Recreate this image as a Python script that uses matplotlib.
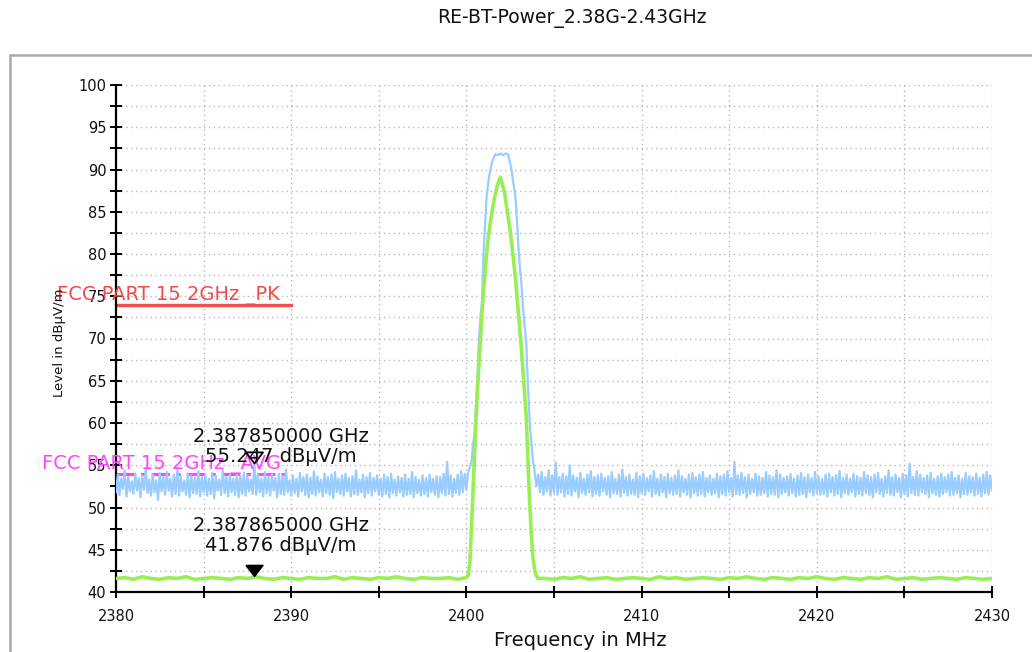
import numpy as np
import matplotlib
matplotlib.use("Agg")
import matplotlib.pyplot as plt
from matplotlib.patches import Rectangle
from matplotlib.ticker import MultipleLocator

plt.rcParams['font.family'] = ['DejaVu Sans']

TITLE = "RE-BT-Power_2.38G-2.43GHz"
XLABEL = "Frequency in MHz"
YLABEL = "Level in dBμV/m"

# ---- blue (peak detector) trace -------------------------------------------
blue_left_start, blue_step = 2380.0, 0.1
blue_left = [
    51.8, 53.9, 51.5, 53.4, 52.2, 54.4, 51.3, 53.6, 51.9, 53.1,
    51.6, 54.0, 52.0, 53.5, 51.2, 53.8, 52.1, 54.6, 51.7, 53.3,
    51.4, 53.9, 51.8, 53.2, 50.9, 54.1, 51.9, 53.6, 51.5, 54.2,
    52.0, 53.4, 51.3, 53.9, 51.6, 54.7, 51.4, 53.7, 51.9, 53.2,
    51.5, 54.0, 51.2, 53.8, 51.7, 53.5, 51.6, 54.3, 51.3, 53.6,
    51.8, 53.9, 51.4, 53.4, 51.6, 54.1, 51.1, 53.7, 52.0, 53.3,
    51.5, 54.4, 51.7, 53.6, 51.3, 53.9, 51.8, 53.4, 51.5, 54.0,
    51.2, 53.7, 51.6, 54.1, 51.4, 53.8, 51.9, 53.3, 51.6, 55.25,
    51.5, 53.9, 51.8, 53.4, 51.3, 54.2, 51.7, 53.6, 51.4, 53.9,
    52.0, 53.5, 51.2, 54.0, 51.6, 53.7, 51.5, 54.5, 51.8, 53.2,
    51.4, 53.8, 51.7, 53.4, 51.3, 54.1, 51.9, 53.6, 51.5, 53.9,
    51.2, 53.5, 51.6, 54.3, 51.4, 53.7, 51.8, 53.3, 51.3, 54.0,
    51.7, 53.6, 51.5, 53.9, 51.1, 54.2, 51.8, 53.4, 51.6, 53.8,
    51.4, 54.0, 51.9, 53.5, 51.3, 53.7, 51.6, 54.4, 51.5, 53.3,
    51.8, 53.9, 51.2, 53.6, 51.7, 54.1, 51.4, 53.5, 51.9, 53.8,
    51.5, 53.4, 51.3, 53.9, 51.6, 53.6, 51.2, 54.0, 51.7, 53.3,
    51.4, 53.7, 51.8, 53.5, 51.3, 53.9, 51.5, 53.4, 51.6, 54.2,
    51.2, 53.6, 51.7, 53.3, 51.4, 53.8, 51.6, 53.5, 51.3, 53.9,
    51.8, 53.4, 51.5, 53.7, 51.2, 53.6, 51.7, 54.0, 51.4, 55.4,
    51.6, 53.8, 51.3, 53.4, 51.7, 53.9, 51.5, 54.3, 51.8, 54.0,
    52.1, 54.2,
]
blue_peak_freq = [
    2400.20, 2400.30, 2400.38, 2400.45, 2400.57, 2400.65, 2400.72, 2400.80,
    2400.88, 2400.95, 2401.00, 2401.08, 2401.15, 2401.25, 2401.35, 2401.45,
    2401.55, 2401.65, 2401.80, 2401.95, 2402.10, 2402.25, 2402.37, 2402.47,
    2402.56, 2402.65, 2402.75, 2402.81, 2402.90, 2402.95, 2403.05, 2403.13,
    2403.22, 2403.30, 2403.42, 2403.50, 2403.57, 2403.65, 2403.72, 2403.80,
    2403.88,
]
blue_peak_level = [
    54.8, 55.5, 57.5, 58.5, 63.0, 66.5, 70.1, 72.5,
    74.0, 78.5, 81.0, 84.0, 86.7, 88.5, 89.8, 90.8,
    91.3, 91.8, 91.7, 91.9, 91.7, 91.9, 91.8, 91.0,
    90.2, 88.8, 87.5, 86.5, 83.5, 81.5, 78.5, 76.8,
    74.0, 72.0, 69.4, 65.0, 61.8, 59.0, 57.5, 55.5,
    54.5,
]
blue_right_start = 2404.0
blue_right = [
    52.5, 53.9, 51.8, 54.2, 51.5, 53.6, 51.9, 54.4, 51.4, 53.8,
    51.7, 55.3, 51.5, 53.6, 51.8, 54.0, 51.3, 53.7, 51.6, 55.0,
    51.4, 53.8, 51.9, 53.5, 51.2, 54.1, 51.7, 53.4, 51.5, 53.9,
    51.8, 54.3, 51.3, 53.6, 51.6, 53.8, 51.4, 54.0, 51.9, 53.5,
    51.5, 53.7, 51.2, 54.2, 51.7, 53.4, 51.6, 53.9, 51.3, 54.5,
    51.8, 53.6, 51.4, 53.9, 51.6, 53.3, 51.5, 54.1, 51.2, 53.7,
    51.7, 54.0, 51.5, 53.5, 51.9, 53.8, 51.3, 54.3, 51.6, 53.4,
    51.4, 53.9, 51.8, 53.6, 51.2, 54.0, 51.7, 53.5, 51.5, 53.8,
    51.6, 54.4, 51.3, 53.7, 51.8, 53.4, 51.5, 53.9, 51.2, 54.1,
    51.7, 53.6, 51.4, 53.9, 51.6, 54.2, 51.3, 53.5, 51.8, 53.8,
    51.5, 53.4, 51.7, 54.0, 51.2, 53.7, 51.6, 53.9, 51.4, 54.3,
    51.8, 53.5, 51.3, 55.4, 51.6, 53.8, 51.5, 54.1, 51.7, 53.6,
    51.2, 53.9, 51.6, 53.4, 51.8, 54.0, 51.4, 53.7, 51.5, 53.5,
    51.7, 54.2, 51.3, 53.8, 51.6, 53.6, 51.5, 54.4, 51.2, 53.9,
    51.6, 53.5, 51.8, 53.7, 51.4, 54.0, 51.7, 53.4, 51.3, 53.8,
    51.5, 54.1, 51.6, 53.6, 51.2, 53.9, 51.8, 53.5, 51.4, 54.2,
    51.7, 53.7, 51.5, 53.4, 51.6, 53.9, 51.3, 54.0, 51.8, 53.6,
    51.4, 53.8, 51.6, 54.3, 51.2, 53.5, 51.7, 53.9, 51.5, 53.4,
    51.8, 54.0, 51.3, 53.7, 51.6, 53.5, 51.4, 54.2, 51.7, 53.8,
    51.5, 53.6, 51.2, 53.9, 51.8, 54.1, 51.6, 53.4, 51.3, 53.7,
    51.7, 54.4, 51.5, 53.6, 51.4, 53.9, 51.8, 53.5, 51.2, 54.0,
    51.6, 53.8, 51.3, 55.2, 51.7, 53.6, 51.5, 54.3, 51.4, 53.9,
    51.8, 53.5, 51.6, 53.8, 51.2, 54.1, 51.7, 53.4, 51.5, 53.7,
    51.3, 54.0, 51.6, 53.6, 51.8, 53.9, 51.4, 54.2, 51.5, 53.5,
    51.7, 53.8, 51.2, 53.4, 51.6, 54.1, 51.5, 53.7, 51.8, 53.6,
    51.4, 54.0, 51.6, 53.5, 51.3, 53.9, 51.7, 54.2, 51.5, 53.8,
    52.0,
]

# ---- green (average detector) trace ---------------------------------------
green_left_start, green_step = 2380.0, 0.5
green_left = [
    41.6, 41.7, 41.5, 41.8, 41.6, 41.5, 41.7, 41.6, 41.8, 41.5,
    41.6, 41.7, 41.6, 41.5, 41.7, 41.6, 41.8, 41.6, 41.5, 41.7,
    41.6, 41.5, 41.7, 41.6, 41.6, 41.8, 41.5, 41.7, 41.6, 41.5,
    41.7, 41.6, 41.8, 41.6, 41.5, 41.7, 41.6, 41.6, 41.7, 41.5,
]
green_peak_freq = [
    2400.00, 2400.10, 2400.20, 2400.28, 2400.35, 2400.42, 2400.47, 2400.55,
    2400.62, 2400.72, 2400.80, 2400.88, 2400.95, 2401.05, 2401.15, 2401.23,
    2401.35, 2401.50, 2401.61, 2401.75, 2401.85, 2401.94, 2402.05, 2402.18,
    2402.30, 2402.40, 2402.47, 2402.60, 2402.70, 2402.81, 2402.95, 2403.05,
    2403.13, 2403.25, 2403.35, 2403.42, 2403.50, 2403.60, 2403.70, 2403.80,
    2403.92, 2404.08,
]
green_peak_level = [
    41.7, 42.0, 43.5, 47.2, 50.5, 54.0, 56.7, 60.5,
    63.5, 67.0, 70.0, 72.5, 74.9, 77.5, 80.0, 81.6,
    83.5, 85.5, 86.7, 88.0, 88.6, 89.1, 88.3, 87.2,
    85.5, 84.2, 83.2, 81.0, 79.0, 76.9, 73.5, 71.0,
    69.0, 65.5, 62.5, 60.6, 56.5, 51.1, 47.0, 44.0,
    42.3, 41.6,
]
green_right_start = 2404.5
green_right = [
    41.6, 41.5, 41.7, 41.6, 41.8, 41.5, 41.6, 41.7, 41.5, 41.6,
    41.7, 41.6, 41.5, 41.8, 41.6, 41.7, 41.5, 41.6, 41.7, 41.6,
    41.5, 41.7, 41.6, 41.8, 41.6, 41.5, 41.7, 41.6, 41.5, 41.7,
    41.6, 41.8, 41.6, 41.5, 41.7, 41.6, 41.5, 41.7, 41.6, 41.8,
    41.5, 41.6, 41.7, 41.5, 41.6, 41.7, 41.6, 41.5, 41.7, 41.6,
    41.5, 41.6,
]

# ---- limit lines and markers ----------------------------------------------
limit_pk_name, limit_pk_level, limit_pk_span = "FCC PART 15 2GHz _PK", 74.0, (2380.0, 2390.0)
limit_avg_name, limit_avg_level, limit_avg_span = "FCC PART 15 2GHz _AVG", 54.0, (2380.0, 2390.0)

marker_pk_freq, marker_pk_level = 2387.850, 55.247
marker_avg_freq, marker_avg_level = 2387.865, 41.876
marker_pk_text = "2.387850000 GHz\n55.247 dBμV/m"
marker_avg_text = "2.387865000 GHz\n41.876 dBμV/m"

x_ticks = [2380, 2390, 2400, 2410, 2420, 2430]
y_ticks = [40, 45, 50, 55, 60, 65, 70, 75, 80, 85, 90, 95, 100]

# ---- assemble traces ------------------------------------------------------
bl_f = blue_left_start + blue_step * np.arange(len(blue_left))
br_f = blue_right_start + blue_step * np.arange(len(blue_right))
blue_f = np.concatenate([bl_f, blue_peak_freq, br_f])
blue_v = np.concatenate([blue_left, blue_peak_level, blue_right])

gl_f = green_left_start + green_step * np.arange(len(green_left))
gr_f = green_right_start + green_step * np.arange(len(green_right))
green_f = np.concatenate([gl_f, green_peak_freq, gr_f])
green_v = np.concatenate([green_left, green_peak_level, green_right])

# ---- figure ---------------------------------------------------------------
W, H = 1032, 652
fig = plt.figure(figsize=(W / 100, H / 100), dpi=100)
fig.patch.set_facecolor('white')

# outer frame
fig.patches.append(Rectangle((10 / W, -0.2), 1.2, (H - 55) / H + 0.2,
                             transform=fig.transFigure, fill=False,
                             edgecolor='#a9a9a9', linewidth=1.8, zorder=0))

ax = fig.add_axes([116 / W, 1 - 592 / H, (992 - 116) / W, (592 - 85) / H])
ax.set_facecolor('none')
ax.set_xlim(2380, 2430)
ax.set_ylim(40, 100)

ax.set_xticks(x_ticks)
ax.xaxis.set_minor_locator(MultipleLocator(5))
ax.set_yticks(y_ticks)
ax.yaxis.set_minor_locator(MultipleLocator(2.5))
ax.tick_params(axis='both', which='both', direction='inout', length=8,
               width=1.4, color='black')
ax.tick_params(axis='both', labelsize=10.5, labelcolor='#111111')
ax.tick_params(axis='x', pad=8)
ax.tick_params(axis='y', pad=3)

ax.grid(True, which='both', color='#b8b8b8', linestyle=(0, (1, 2.5)), linewidth=1.0)
ax.set_axisbelow(True)
for s in ('top', 'right'):
    ax.spines[s].set_visible(False)
for s in ('left', 'bottom'):
    ax.spines[s].set_linewidth(1.6)
    ax.spines[s].set_color('black')

# limit lines
ax.plot(limit_avg_span, [limit_avg_level] * 2, color='#ff44ff', lw=2.2,
        linestyle=(0, (6, 2, 1.5, 2)), zorder=2)
ax.plot(limit_pk_span, [limit_pk_level] * 2, color='#f05050', lw=2.4, zorder=2)

# traces
ax.plot(blue_f, blue_v, color='#99ccff', lw=1.6, zorder=3)
ax.plot(green_f, green_v, color='#99ee55', lw=2.6, zorder=4)

# limit line labels
ax.annotate(limit_pk_name, xy=(2380, limit_pk_level), xytext=(-59, 9),
            textcoords='offset pixels', ha='left', va='center',
            color='#f04a4a', fontsize=14, annotation_clip=False, zorder=5)
ax.annotate(limit_avg_name, xy=(2380, limit_avg_level), xytext=(-74, 9),
            textcoords='offset pixels', ha='left', va='center',
            color='#ff44ff', fontsize=14, annotation_clip=False, zorder=5)

# markers (tip of triangle at the data point)
tri = [(-0.77, 1.0), (0.77, 1.0), (0.0, 0.0), (-0.77, 1.0)]
ax.plot([marker_pk_freq], [marker_pk_level], marker=tri, markersize=16,
        markerfacecolor='none', markeredgecolor='black', markeredgewidth=1.3,
        linestyle='none', zorder=6)
ax.plot([marker_avg_freq], [marker_avg_level], marker=tri, markersize=16,
        markerfacecolor='black', markeredgecolor='black', markeredgewidth=1.0,
        linestyle='none', zorder=6)

ax.annotate(marker_pk_text, xy=(marker_pk_freq, marker_pk_level), xytext=(27, 17),
            textcoords='offset pixels', ha='center', va='center',
            multialignment='center', fontsize=14, color='#111111',
            linespacing=1.05, zorder=7)
ax.annotate(marker_avg_text, xy=(marker_avg_freq, marker_avg_level), xytext=(27, 41),
            textcoords='offset pixels', ha='center', va='center',
            multialignment='center', fontsize=14, color='#111111',
            linespacing=1.05, zorder=7)

# labels
fig.text(572 / W, 1 - 18 / H, TITLE, ha='center', va='center', fontsize=13.5,
         color='#111111')
fig.text(580 / W, 1 - 640 / H, XLABEL, ha='center', va='center', fontsize=14,
         color='#111111')
fig.text(60 / W, 1 - 343 / H, YLABEL, ha='center', va='center', fontsize=9.5,
         rotation=90, color='#111111')

fig.savefig('out.png', dpi=100, facecolor='white')
